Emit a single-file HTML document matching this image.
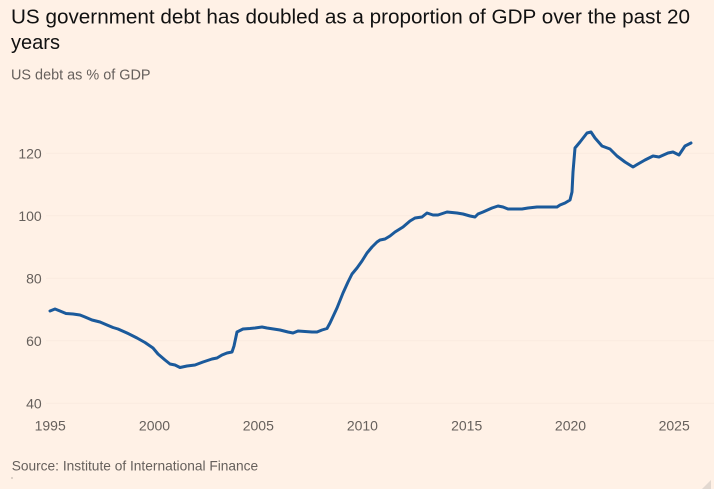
<!DOCTYPE html>
<html>
<head>
<meta charset="utf-8">
<style>
  html,body{margin:0;padding:0;background:#fff1e6;}
  body{width:714px;height:489px;overflow:hidden;}
  svg{display:block;}
  text{font-family:"Liberation Sans",sans-serif;}
</style>
</head>
<body>
<svg width="714" height="489" viewBox="0 0 714 489" xmlns="http://www.w3.org/2000/svg">
  <rect x="0" y="0" width="714" height="489" fill="#fff1e6"/>
  <text x="11" y="23.5" font-size="20" fill="#111" textLength="679" lengthAdjust="spacingAndGlyphs">US government debt has doubled as a proportion of GDP over the past 20</text>
  <text x="11" y="49" font-size="20" fill="#111" textLength="49" lengthAdjust="spacingAndGlyphs">years</text>
  <text x="11" y="79.5" font-size="15" fill="#66605c" textLength="139.5" lengthAdjust="spacingAndGlyphs">US debt as % of GDP</text>

  <g stroke="#faebdf" stroke-width="1">
    <line x1="46" y1="153.3" x2="714" y2="153.3"/>
    <line x1="46" y1="215.8" x2="714" y2="215.8"/>
    <line x1="46" y1="278.3" x2="714" y2="278.3"/>
    <line x1="46" y1="340.8" x2="714" y2="340.8"/>
    <line x1="46" y1="403.3" x2="714" y2="403.3"/>
  </g>

  <g font-size="14" fill="#66605c" text-anchor="end">
    <text x="41.7" y="158.3">120</text>
    <text x="41.7" y="220.8">100</text>
    <text x="41.7" y="283.3">80</text>
    <text x="41.7" y="345.8">60</text>
    <text x="41.7" y="408.3">40</text>
  </g>
  <g font-size="14" fill="#66605c" text-anchor="middle">
    <text x="50.2" y="430.6">1995</text>
    <text x="154.5" y="430.6">2000</text>
    <text x="258.3" y="430.6">2005</text>
    <text x="362.4" y="430.6">2010</text>
    <text x="466.7" y="430.6">2015</text>
    <text x="570.5" y="430.6">2020</text>
    <text x="674.2" y="430.6">2025</text>
  </g>

  <polyline fill="none" stroke="#1b5a9b" stroke-width="3" stroke-linejoin="round" stroke-linecap="round" points="
50,311 55,309 60,311 66,313.5 73,314 80,315 85,317 92,320 100,322 107,325 113,327.5 118,329 127,333 137,338 145,342.5 153,348 158,354 165,360 170,364 175,365 180,367.5 187,366 195,365 203,362 212,359 217,358 222,355 227,353 232,352 234,346 237,332 243,329 250,328.5
255,328 262,327 267,328 280,330 288,332 293,333 298,331 305,331.5 312,332 317,332 322,330 327,328.5 330,323 337,308 343,293 348,282 352,274 357,268 362,261 367,253 372,247 377,242 380,240 385,239 390,236 395,232 403,227 410,221 415,218 422,217 427,213 433,215 438,215 447,212 457,213 463,214 470,216
475,217 478,214 483,212 492,208 498,206 503,207 508,209 515,209 522,209 528,208 537,207 547,207 553,207 557,207 560,205 565,203 570,200 572,192 573,172 575,148 580,142 587,133 591,132 595,138 602,146 610,149 617,156 625,162 633,167 638,164 645,160 653,156 659,157 668,153 673,152 679,155 685,146 691,143"/>

  <text x="11.7" y="470.7" font-size="14" fill="#66605c" textLength="246.5" lengthAdjust="spacingAndGlyphs">Source: Institute of International Finance</text>
  <rect x="11.5" y="477" width="1" height="2" fill="#b8aea6"/>
  <polygon points="711,480 711,489 702,489" fill="#e2d8d0"/>
</svg>
</body>
</html>
